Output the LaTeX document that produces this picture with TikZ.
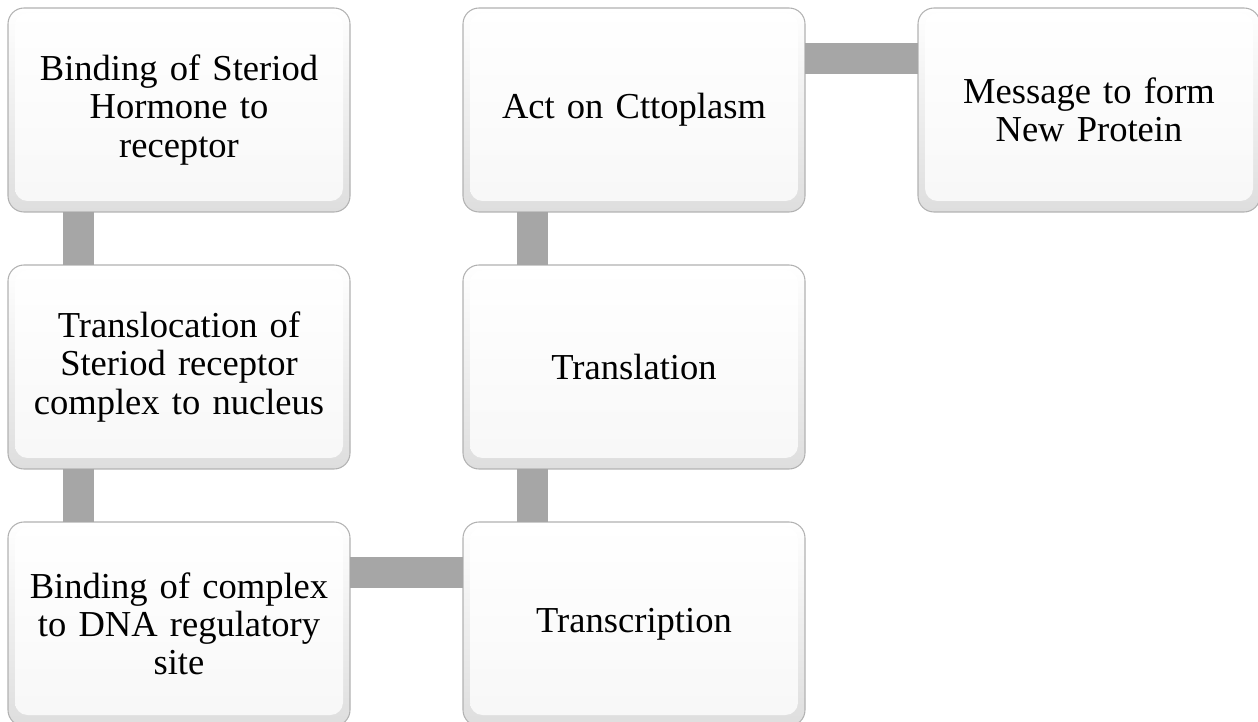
\documentclass[tikz,border=0pt]{standalone}
\usepackage{fontspec}
\setmainfont{Liberation Serif}
\usetikzlibrary{positioning}

\begin{document}
\begin{tikzpicture}[node distance=1.06cm and 2.26cm,
      every node/.append style={font=\fontsize{20.8}{21.8}\selectfont}]
    \tikzstyle{stage} = [rectangle, rounded corners=0.32cm, draw=black!30, line width=0.6pt,
      top color=white, bottom color=black!13, minimum width=6.84cm, minimum height=4.08cm,
      text width=6.6cm, align=center, inner sep=0pt, outer sep=0pt,
      path picture={\shade[top color=white, bottom color=black!3, rounded corners=0.25cm]
        ([shift={(0.14,-0.1)}]path picture bounding box.north west) rectangle
        ([shift={(-0.14,0.22)}]path picture bounding box.south east);}]
    \tikzstyle{link} = [draw=black!35, line width=0.62cm]
    \useasboundingbox (0,0) rectangle (25.16,-14.44);
    % first column, top to bottom
    \node (binding) [stage, anchor=north west] at (0.16,-0.16)
      {Binding of Steriod\\ Hormone to\\ receptor};
    \node (transloc) [stage, below=of binding]
      {Translocation of\\ Steriod receptor\\ complex to nucleus};
    \node (complex) [stage, below=of transloc]
      {Binding of complex\\ to DNA regulatory\\ site};
    % second column, bottom to top
    \node (transcr) [stage, right=of complex] {Transcription};
    \node (transl) [stage, above=of transcr] {Translation};
    \node (cyto) [stage, above=of transl] {Act on Cttoplasm};
    \node (message) [stage, right=of cyto] {Message to form\\ New Protein};
    % connectors
    \draw[link] ([xshift=1.4cm]binding.south west) -- ([xshift=1.4cm]transloc.north west);
    \draw[link] ([xshift=1.4cm]transloc.south west) -- ([xshift=1.4cm]complex.north west);
    \draw[link] ([yshift=-1.02cm]complex.north east) -- ([yshift=-1.02cm]transcr.north west);
    \draw[link] ([xshift=1.38cm]transcr.north west) -- ([xshift=1.38cm]transl.south west);
    \draw[link] ([xshift=1.38cm]transl.north west) -- ([xshift=1.38cm]cyto.south west);
    \draw[link] ([yshift=-1.02cm]cyto.north east) -- ([yshift=-1.02cm]message.north west);
\end{tikzpicture}
\end{document}
